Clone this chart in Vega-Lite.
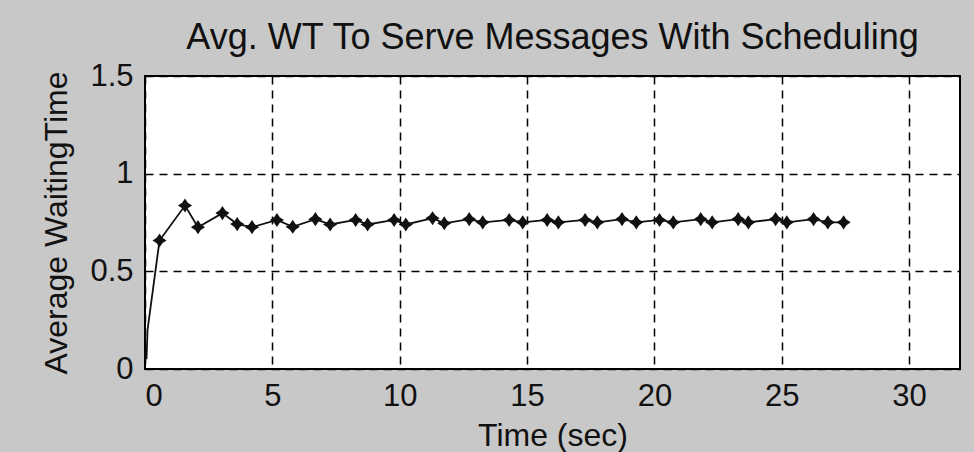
{
  "$schema": "https://vega.github.io/schema/vega-lite/v6.json",
  "width": 815,
  "height": 293,
  "autosize": "none",
  "padding": {"left": 145, "top": 76, "right": 14, "bottom": 83},
  "background": "#c8c8c8",
  "title": {
    "text": "Avg. WT To Serve Messages With Scheduling",
    "font": "Liberation Sans",
    "fontSize": 36,
    "fontWeight": "normal",
    "color": "#111111",
    "anchor": "middle",
    "baseline": "alphabetic",
    "offset": 24,
    "dy": 49
  },
  "config": {
    "view": {"fill": "white", "stroke": "black", "strokeWidth": 2},
    "axis": {
      "labelFont": "Liberation Sans",
      "titleFont": "Liberation Sans",
      "labelFontSize": 31,
      "titleFontSize": 32,
      "titleFontWeight": "normal",
      "labelColor": "#111111",
      "titleColor": "#111111",
      "domain": false,
      "ticks": false,
      "grid": true,
      "gridColor": "black",
      "gridOpacity": 1,
      "gridWidth": 1.5,
      "gridDash": [8, 6]
    }
  },
  "data": {
    "values": [
      {"t": 0.06, "v": 0.05},
      {"t": 0.10, "v": 0.20},
      {"t": 0.57, "v": 0.658},
      {"t": 1.57, "v": 0.837},
      {"t": 2.08, "v": 0.726},
      {"t": 3.04, "v": 0.798},
      {"t": 3.62, "v": 0.742},
      {"t": 4.20, "v": 0.726},
      {"t": 5.18, "v": 0.763},
      {"t": 5.80, "v": 0.728},
      {"t": 6.69, "v": 0.767},
      {"t": 7.27, "v": 0.740},
      {"t": 8.27, "v": 0.763},
      {"t": 8.74, "v": 0.740},
      {"t": 9.78, "v": 0.763},
      {"t": 10.24, "v": 0.740},
      {"t": 11.29, "v": 0.772},
      {"t": 11.75, "v": 0.746},
      {"t": 12.73, "v": 0.767},
      {"t": 13.26, "v": 0.751},
      {"t": 14.30, "v": 0.763},
      {"t": 14.83, "v": 0.751},
      {"t": 15.79, "v": 0.763},
      {"t": 16.23, "v": 0.751},
      {"t": 17.28, "v": 0.763},
      {"t": 17.76, "v": 0.751},
      {"t": 18.73, "v": 0.767},
      {"t": 19.29, "v": 0.751},
      {"t": 20.20, "v": 0.763},
      {"t": 20.74, "v": 0.751},
      {"t": 21.82, "v": 0.767},
      {"t": 22.27, "v": 0.751},
      {"t": 23.29, "v": 0.767},
      {"t": 23.69, "v": 0.751},
      {"t": 24.76, "v": 0.767},
      {"t": 25.20, "v": 0.751},
      {"t": 26.25, "v": 0.767},
      {"t": 26.81, "v": 0.751},
      {"t": 27.43, "v": 0.751}
    ]
  },
  "encoding": {
    "x": {
      "field": "t",
      "type": "quantitative",
      "scale": {"domain": [0, 32], "nice": false, "zero": false},
      "axis": {"values": [0, 5, 10, 15, 20, 25, 30], "title": "Time (sec)", "labelPadding": 12, "titlePadding": 9, "format": "d"}
    },
    "y": {
      "field": "v",
      "type": "quantitative",
      "scale": {"domain": [0, 1.5], "nice": false},
      "axis": {"values": [0, 0.5, 1, 1.5], "title": "Average WaitingTime", "labelPadding": 12, "titlePadding": 16, "format": "~g"}
    }
  },
  "layer": [
    {"mark": {"type": "line", "color": "#111111", "strokeWidth": 1.8}},
    {
      "transform": [{"filter": "datum.t > 0.3"}],
      "mark": {
        "type": "point",
        "filled": true,
        "color": "#111111",
        "opacity": 1,
        "size": 200,
        "shape": "M0,-1L0.4,-0.4L1,0L0.4,0.4L0,1L-0.4,0.4L-1,0L-0.4,-0.4Z"
      }
    }
  ]
}
